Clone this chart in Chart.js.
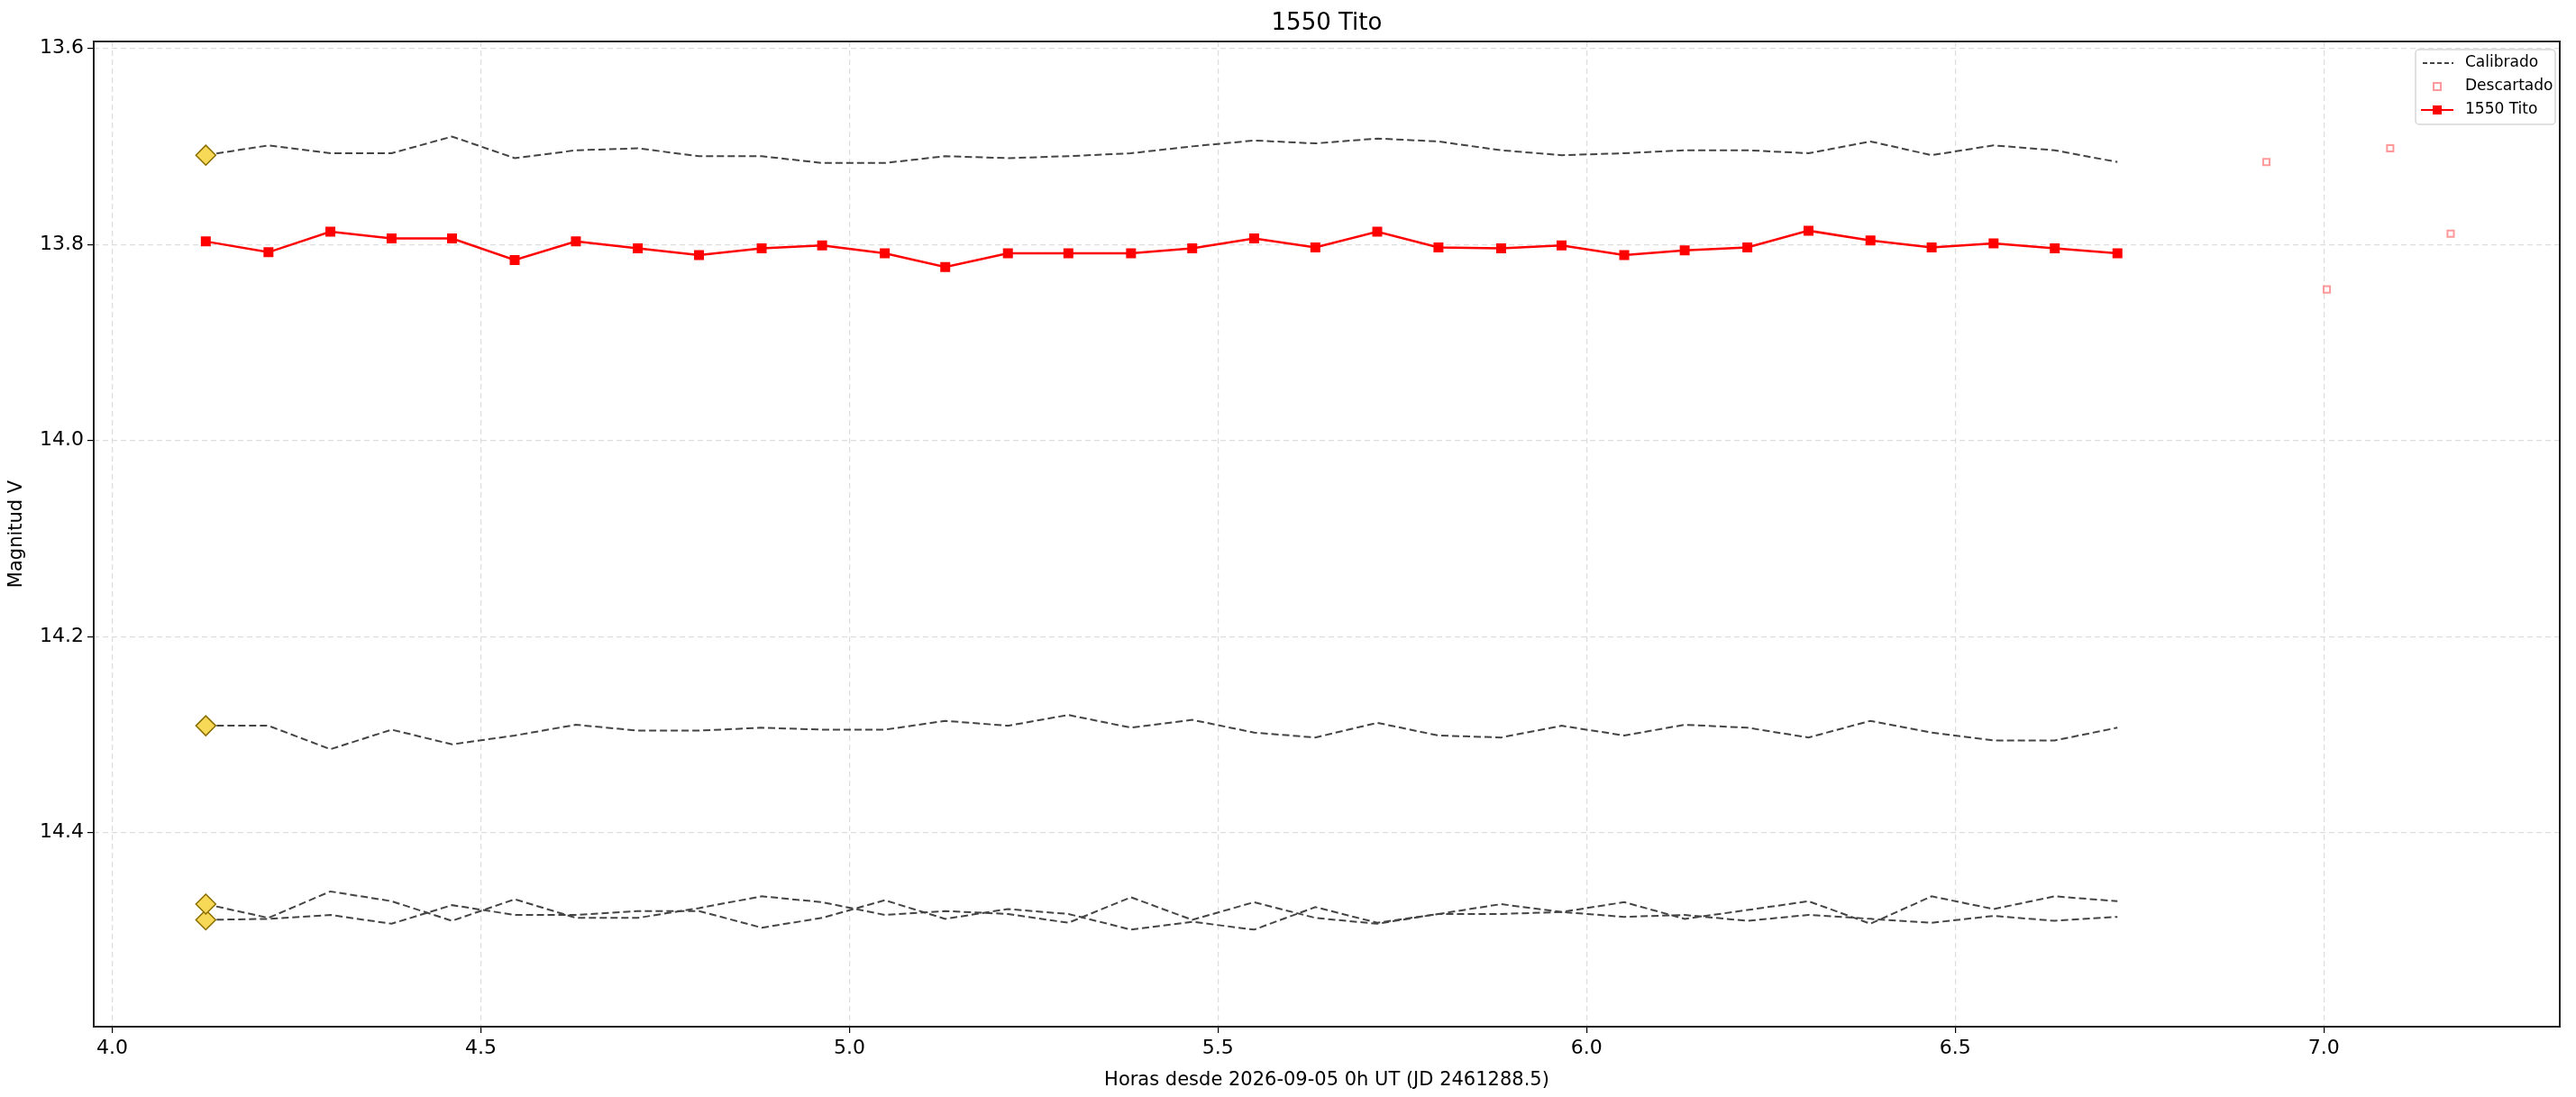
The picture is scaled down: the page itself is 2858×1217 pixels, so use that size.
<!DOCTYPE html>
<html><head><meta charset="utf-8">
<script src="https://cdn.jsdelivr.net/npm/chart.js@4"></script>
<style>html,body{margin:0;padding:0;background:#fff}#w{width:2858px;height:1217px}</style>
</head><body><div id="w"><canvas id="c"></canvas></div>
<script>
const hours = [4.127,4.212,4.296,4.379,4.461,4.546,4.629,4.713,4.796,4.881,4.963,5.048,5.130,5.215,5.297,5.382,5.465,5.549,5.632,5.716,5.799,5.884,5.966,6.051,6.133,6.218,6.301,6.385,6.468,6.552,6.635,6.720];
const tito = [13.797,13.808,13.787,13.794,13.794,13.816,13.797,13.804,13.811,13.804,13.801,13.809,13.823,13.809,13.809,13.809,13.804,13.794,13.803,13.787,13.803,13.804,13.801,13.811,13.806,13.803,13.786,13.796,13.803,13.799,13.804,13.809];
const comp1 = [13.709,13.699,13.707,13.707,13.690,13.712,13.704,13.702,13.710,13.710,13.717,13.717,13.710,13.712,13.710,13.707,13.700,13.694,13.697,13.692,13.695,13.704,13.709,13.707,13.704,13.704,13.707,13.695,13.709,13.699,13.704,13.716];
const comp2 = [14.291,14.291,14.315,14.295,14.310,14.301,14.290,14.296,14.296,14.293,14.295,14.295,14.286,14.291,14.280,14.293,14.285,14.298,14.303,14.288,14.301,14.303,14.291,14.301,14.290,14.293,14.303,14.286,14.298,14.306,14.306,14.293];
const comp3 = [14.473,14.487,14.460,14.470,14.490,14.468,14.487,14.487,14.477,14.465,14.471,14.484,14.480,14.483,14.492,14.466,14.489,14.471,14.487,14.493,14.483,14.483,14.481,14.486,14.484,14.490,14.484,14.488,14.492,14.485,14.490,14.486];
const comp4 = [14.489,14.488,14.484,14.493,14.474,14.484,14.484,14.480,14.480,14.497,14.487,14.469,14.488,14.478,14.483,14.499,14.491,14.499,14.476,14.492,14.483,14.473,14.481,14.471,14.488,14.479,14.470,14.493,14.465,14.478,14.465,14.470];
const discHours = [6.922,7.004,7.090,7.172];
const discMag = [13.716,13.846,13.702,13.789];
const xTicks = [4.0,4.5,5.0,5.5,6.0,6.5,7.0];
const yTicks = [13.6,13.8,14.0,14.2,14.4];
const titleText = "1550 Tito";
const xTitle = "Horas desde 2026-09-05 0h UT (JD 2461288.5)";
const yTitle = "Magnitud V";
const legendLabels = ["Calibrado","Descartado","1550 Tito"];

const pts = (xs, ys) => xs.map((x,i)=>({x:x,y:ys[i]}));
const FONT = "'DejaVu Sans', sans-serif";
function compDs(arr){
  return {type:'line', data:pts(hours,arr), borderColor:'#444', borderWidth:2, borderDash:[8,4],
    pointStyle:'rectRot', pointRadius:c=>c.dataIndex===0?11:0, pointHoverRadius:0,
    pointBackgroundColor:'#f7d957', pointBorderColor:'#8a6d00', pointBorderWidth:1.5, tension:0, order:2};
}
const deco = {
  id:'deco',
  afterDraw(ch){
    const g=ch.ctx, a=ch.chartArea;
    g.save();
    g.strokeStyle='#222'; g.lineWidth=2; g.setLineDash([]);
    g.strokeRect(a.left,a.top,a.right-a.left,a.bottom-a.top);
    g.fillStyle='#000'; g.font='26px '+FONT; g.textAlign='center'; g.textBaseline='middle';
    g.fillText(titleText,(a.left+a.right)/2,26);
    const bx=2680, by=55, bw=155, bh=83;
    g.fillStyle='rgba(255,255,255,0.85)'; g.strokeStyle='#d6d6d6'; g.lineWidth=1.5;
    g.beginPath(); g.roundRect(bx,by,bw,bh,4); g.fill(); g.stroke();
    g.font='17px '+FONT; g.textAlign='left'; g.fillStyle='#000';
    const rows=[by+15,by+41,by+67];
    rows.forEach((y,i)=>g.fillText(legendLabels[i],bx+55,y));
    g.strokeStyle='#444'; g.lineWidth=1.8; g.setLineDash([5,3]);
    g.beginPath(); g.moveTo(bx+8,rows[0]); g.lineTo(bx+42,rows[0]); g.stroke(); g.setLineDash([]);
    g.strokeStyle='#ff9999'; g.lineWidth=2; g.fillStyle='#fff'; g.fillRect(bx+20,rows[1]-4,8,8); g.strokeRect(bx+20,rows[1]-4,8,8);
    g.strokeStyle='red'; g.lineWidth=2.2; g.beginPath(); g.moveTo(bx+6,rows[2]); g.lineTo(bx+42,rows[2]); g.stroke();
    g.fillStyle='red'; g.fillRect(bx+19,rows[2]-5,10,10);
    g.restore();
  }
};
new Chart(document.getElementById('c'),{
  data:{datasets:[
    compDs(comp1),compDs(comp2),compDs(comp3),compDs(comp4),
    {type:'scatter', data:pts(discHours,discMag), pointStyle:'rect', pointRadius:5, borderWidth:2,
      pointBorderColor:'#ff9999', pointBackgroundColor:'#fff', order:1},
    {type:'line', data:pts(hours,tito), borderColor:'red', borderWidth:2.5, pointStyle:'rect', pointRadius:6,
      pointBackgroundColor:'red', pointBorderColor:'red', tension:0, order:0}
  ]},
  options:{responsive:true, maintainAspectRatio:false, animation:false, devicePixelRatio:1,
    layout:{padding:{top:46,right:18,left:0,bottom:0}},
    plugins:{legend:{display:false},tooltip:{enabled:false}},
    scales:{
      x:{type:'linear', min:3.975, max:7.32,
        afterBuildTicks:s=>{s.ticks=xTicks.map(v=>({value:v}));},
        afterFit:s=>{s.height=78;},
        ticks:{callback:v=>v.toFixed(1), font:{size:22,family:FONT}, color:'#000', padding:4, maxRotation:0},
        grid:{color:'#dddddd', lineWidth:1.2, tickLength:7, tickColor:'#000'},
        border:{display:false, dash:[6,4]},
        title:{display:true, text:xTitle, font:{size:21,family:FONT}, color:'#000', padding:{top:0,bottom:6}}},
      y:{type:'linear', reverse:true, min:13.593, max:14.598,
        afterBuildTicks:s=>{s.ticks=yTicks.map(v=>({value:v}));},
        afterFit:s=>{s.width=104;},
        ticks:{callback:v=>v.toFixed(1), font:{size:22,family:FONT}, color:'#000', padding:4},
        grid:{color:'#dddddd', lineWidth:1.2, tickLength:7, tickColor:'#000'},
        border:{display:false, dash:[6,4]},
        title:{display:true, text:yTitle, font:{size:21,family:FONT}, color:'#000', padding:{bottom:4,top:6}}}
    }
  },
  plugins:[deco]
});
</script></body></html>
